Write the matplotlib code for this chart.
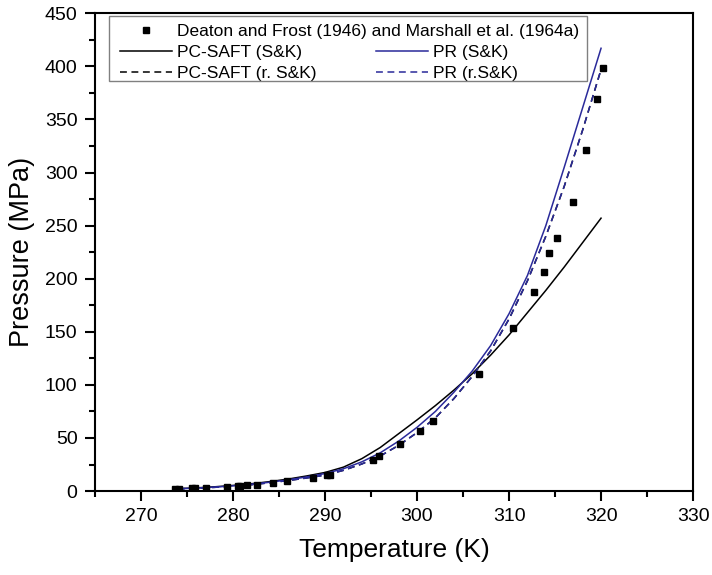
import numpy as np
import matplotlib
matplotlib.use("Agg")
import matplotlib.pyplot as plt
from matplotlib.patches import Rectangle
from matplotlib.ticker import MultipleLocator

plt.rcParams['font.family'] = ['Liberation Sans', 'DejaVu Sans']

# experimental data (Deaton and Frost 1946, Marshall et al. 1964a)
T_exp = [273.7, 274.1, 275.5, 275.9, 277.1, 279.3, 280.5, 280.8, 281.5, 282.6,
         284.4, 285.9, 288.7, 290.2, 290.5, 295.2, 295.9, 298.2, 300.3, 301.7,
         306.7, 310.4, 312.75, 313.8, 314.3, 315.2, 316.9, 318.4, 319.6, 320.2]
P_exp = [1.9, 1.9, 2.5, 2.5, 3.1, 3.8, 4.4, 4.8, 5.3, 5.7,
         7.5, 9.1, 12.5, 15.0, 15.5, 29.5, 33.0, 44.0, 56.5, 65.5,
         110.5, 154.0, 187.5, 206.5, 224.5, 238.0, 272.0, 321.0, 369.0, 398.0]

# model curves
T_mod = [274, 276, 278, 280, 282, 284, 286, 288, 290, 292, 294, 296, 298,
         300, 302, 304, 306, 308, 310, 312, 314, 316, 318, 320]
P_pcsaft = [2.3, 3.0, 4.0, 5.3, 6.9, 8.9, 11.3, 14.2, 17.5, 22.5, 30.5, 41.0, 54.0,
            67.0, 80.5, 95.0, 110.5, 128.0, 147.0, 168.0, 189.0, 211.0, 234.0, 257.0]
P_pcsaft_r = [2.0, 2.7, 3.5, 4.6, 6.0, 7.8, 9.9, 12.3, 15.0, 19.5, 25.5, 33.0, 43.0,
              55.0, 69.0, 87.0, 108.0, 132.0, 162.0, 198.0, 240.0, 287.0, 340.0, 397.0]
P_pr = [2.1, 2.8, 3.7, 4.9, 6.4, 8.3, 10.6, 13.3, 16.5, 21.0, 27.5, 36.0, 47.0,
        60.0, 75.0, 93.0, 113.0, 137.0, 167.0, 203.0, 250.0, 305.0, 361.0, 417.0]
P_pr_r = [2.0, 2.7, 3.5, 4.6, 6.0, 7.8, 9.9, 12.3, 15.0, 19.5, 25.5, 33.0, 43.0,
          55.0, 69.0, 87.0, 108.0, 132.0, 162.0, 198.0, 240.0, 287.0, 340.0, 397.0]

blue = '#2a2a9a'

fig = plt.figure(figsize=(7.12, 5.75), dpi=100)
ax = fig.add_axes([0.1334, 0.146, 0.84, 0.831])

sc, = ax.plot(T_exp, P_exp, 's', color='black', markersize=5, linestyle='none', zorder=5)
l1, = ax.plot(T_mod, P_pcsaft, '-', color='black', lw=1.1)
l2, = ax.plot(T_mod, P_pcsaft_r, '--', color='black', lw=1.1, dashes=(4.5, 3))
l3, = ax.plot(T_mod, P_pr, '-', color=blue, lw=1.1)
l4, = ax.plot(T_mod, P_pr_r, '--', color=blue, lw=1.1, dashes=(4.5, 3))

ax.set_xlim(265, 330)
ax.set_ylim(0, 450)
ax.xaxis.set_major_locator(MultipleLocator(10))
ax.xaxis.set_minor_locator(MultipleLocator(5))
ax.yaxis.set_major_locator(MultipleLocator(50))
ax.yaxis.set_minor_locator(MultipleLocator(25))
ax.tick_params(which='both', direction='out', top=False, right=False, width=1.5, labelsize=14)
ax.tick_params(which='major', length=7.5, pad=5)
ax.tick_params(which='minor', length=4.5)
for s in ax.spines.values():
    s.set_linewidth(1.5)

ax.set_xlabel('Temperature (K)', fontsize=19, labelpad=9)
ax.set_ylabel('Pressure (MPa)', fontsize=19.5, labelpad=7)

# legend: frame drawn once around two frameless legends
ax.add_patch(Rectangle((0.0234, 0.858), 0.80, 0.136, transform=ax.transAxes,
                       fill=False, edgecolor='#808080', lw=1.0, zorder=6))
leg1 = ax.legend([sc], ['Deaton and Frost (1946) and Marshall et al. (1964a)'],
                 loc='upper left', bbox_to_anchor=(0.042, 0.977), frameon=False,
                 fontsize=12.5, handlelength=3, handletextpad=0.3, borderpad=0,
                 borderaxespad=0, markerscale=0.8)
ax.add_artist(leg1)
ax.legend([l1, l2, l3, l4], ['PC-SAFT (S&K)', 'PC-SAFT (r. S&K)', 'PR (S&K)', 'PR (r.S&K)'],
          ncol=2, loc='upper left', bbox_to_anchor=(0.042, 0.933), frameon=False,
          fontsize=12.5, handlelength=3, handletextpad=0.3, borderpad=0,
          borderaxespad=0, labelspacing=0.3, columnspacing=3.4)

fig.savefig('out.png', dpi=100)
